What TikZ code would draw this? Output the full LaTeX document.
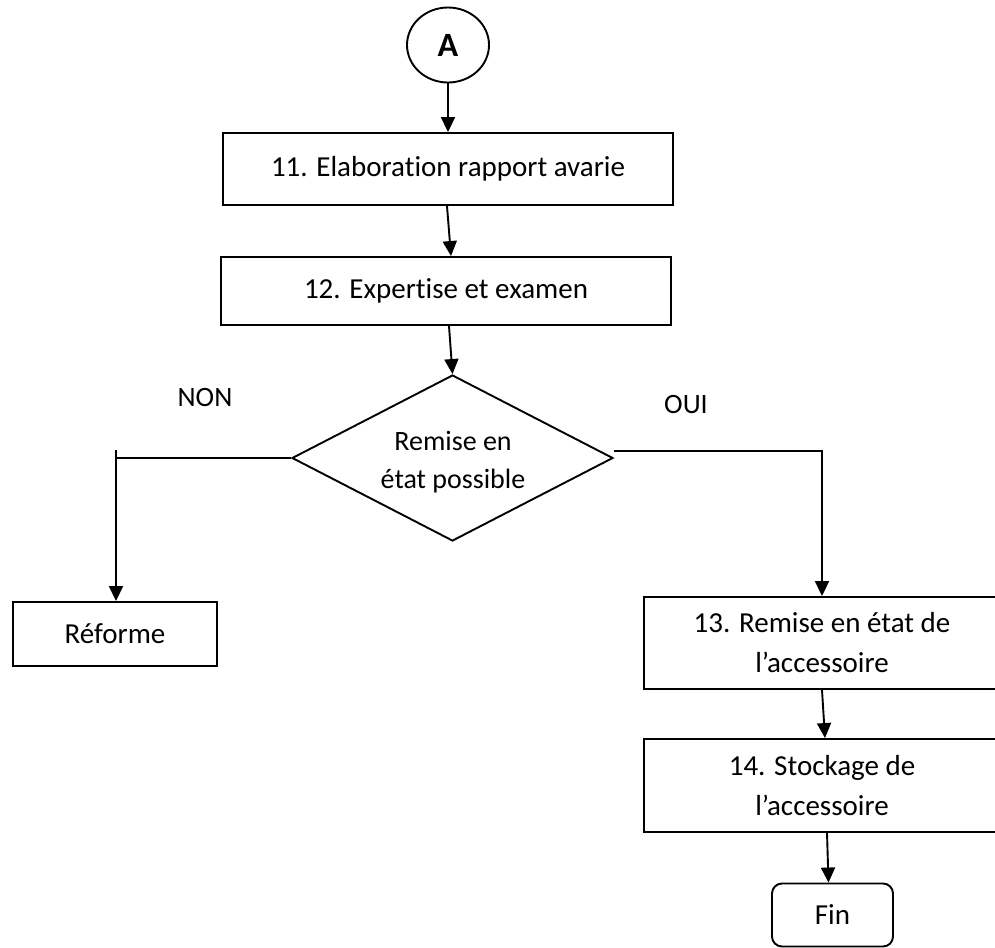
\documentclass[tikz,border=0pt]{standalone}
\usepackage{fontspec}
\setmainfont{Carlito}[Ligatures=NoCommon]
\usepackage{tikz}
\usetikzlibrary{arrows.meta,shapes.geometric}

\begin{document}
\begin{tikzpicture}[x=1pt, y=-1pt, line width=1.9pt,
		box_style/.style={rectangle,draw=black,fill=white,inner sep=0pt,align=center,font=\fontsize{29}{40}\selectfont},
		start_style/.style={ellipse,draw=black,fill=white,inner sep=0pt,minimum width=82pt,minimum height=75pt,font=\fontsize{34}{40}\selectfont\bfseries},
		test_style/.style={diamond,draw=black,fill=white,inner sep=0pt,minimum width=321pt,minimum height=166pt},
		text_style/.style={align=center,inner sep=0pt,font=\fontsize{28}{38}\selectfont},
		edge_style/.style={draw=black,-{Triangle[length=15pt,width=14pt]}},
		line_style/.style={draw=black}]
		
		\useasboundingbox (0,0) rectangle (995,947);
		\clip (0,0) rectangle (995,947);
		
		\node[start_style] (nA) at (448,45)  {A};
		\node[box_style,minimum width=450pt,minimum height=72pt] (n11) at (448,169)  {11. Elaboration rapport avarie};
		\node[box_style,minimum width=450pt,minimum height=68pt] (n12) at (446,291)  {12. Expertise et examen};
		\node[test_style] (nT) at (452.5,458)  {};
		\node[text_style] (nT_txt) at (453,462)  {Remise en\\état possible};
		\node[box_style,minimum width=204pt,minimum height=64pt] (nR) at (115,634)  {Réforme};
		\node[box_style,minimum width=356pt,minimum height=92pt] (n13) at (822,643)  {13. Remise en état de\\l’accessoire};
		\node[box_style,minimum width=356pt,minimum height=93pt] (n14) at (822,785.5)  {14. Stockage de\\l’accessoire};
		\node[box_style,rounded corners=10pt,minimum width=121pt,minimum height=63pt] (nF) at (832.5,915)  {Fin};
		
		\node[text_style] (lNON) at (205,398)  {NON};
		\node[text_style] (lOUI) at (686,405)  {OUI};
		\coordinate (nR_top) at (116,450);
		
		\draw[edge_style]  (nA) -- (n11);
		\draw[edge_style]  ([xshift=-1pt]n11.south) -- ([xshift=5pt]n12.north);
		\draw[edge_style]  ([xshift=3pt]n12.south) -- (nT.north);
		\draw[line_style]  (nT.west) -- (nT.west -| nR_top);
		\draw[edge_style]  (nR_top) -- (nR_top |- nR.north);
		\draw[edge_style]  ([yshift=7pt]nT.east) -| (n13.north);
		\draw[edge_style]  (n13.south) -- ([xshift=3pt]n14.north);
		\draw[edge_style]  ([xshift=5pt]n14.south) -- ([xshift=-4pt]nF.north);
    
\end{tikzpicture}
\end{document}
